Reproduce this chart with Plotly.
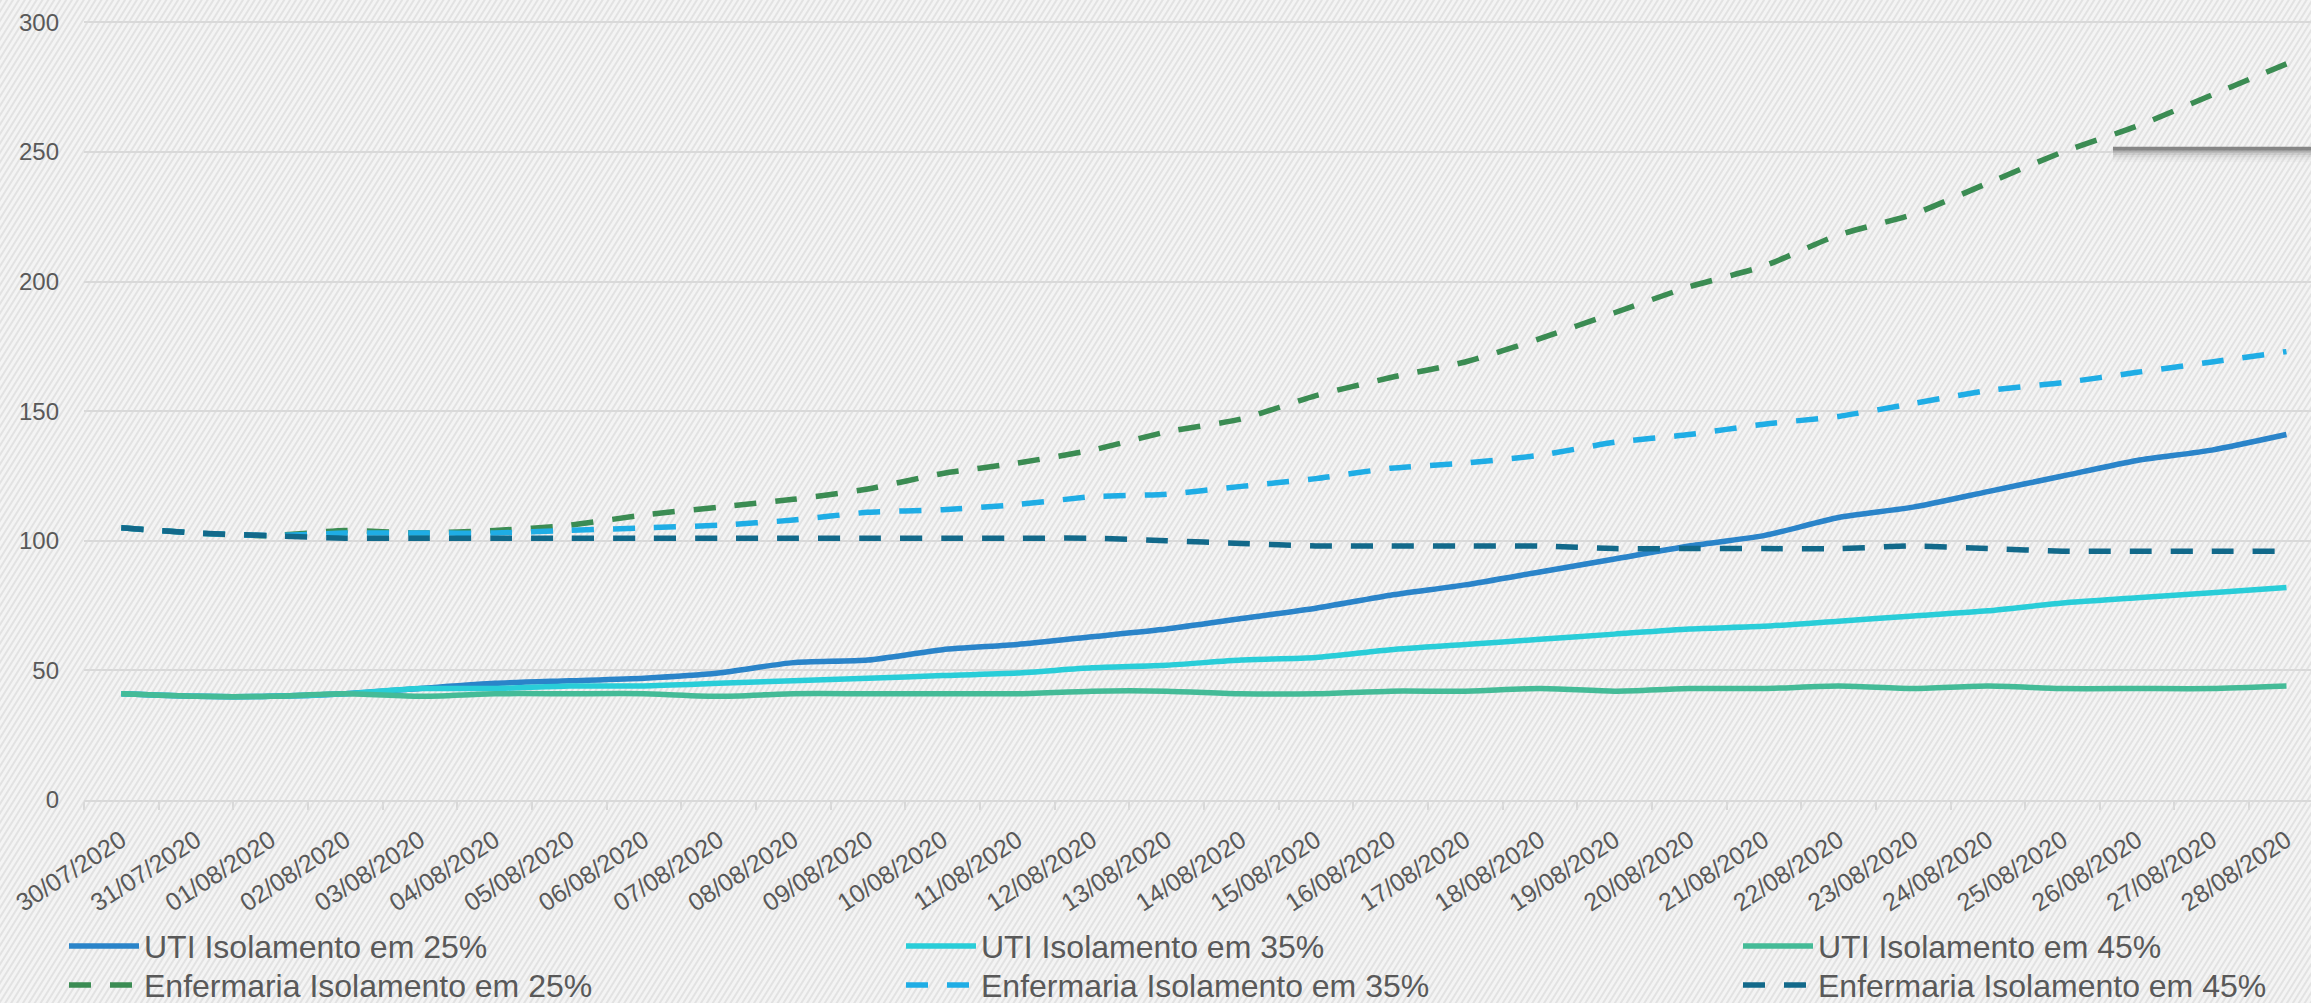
import base64
import plotly.graph_objects as go

# ========== DATA ==========
dates = ["30/07/2020", "31/07/2020", "01/08/2020", "02/08/2020", "03/08/2020",
         "04/08/2020", "05/08/2020", "06/08/2020", "07/08/2020", "08/08/2020",
         "09/08/2020", "10/08/2020", "11/08/2020", "12/08/2020", "13/08/2020",
         "14/08/2020", "15/08/2020", "16/08/2020", "17/08/2020", "18/08/2020",
         "19/08/2020", "20/08/2020", "21/08/2020", "22/08/2020", "23/08/2020",
         "24/08/2020", "25/08/2020", "26/08/2020", "27/08/2020", "28/08/2020"]

uti_25 = [41, 40, 40, 41, 43, 45, 46, 47, 49, 53, 54, 58, 60, 63, 66,
          70, 74, 79, 83, 88, 93, 98, 102, 109, 113, 119, 125, 131, 135, 141]
uti_35 = [41, 40, 40, 41, 43, 43, 44, 44, 45, 46, 47, 48, 49, 51, 52,
          54, 55, 58, 60, 62, 64, 66, 67, 69, 71, 73, 76, 78, 80, 82]
uti_45 = [41, 40, 40, 41, 40, 41, 41, 41, 40, 41, 41, 41, 41, 42, 42,
          41, 41, 42, 42, 43, 42, 43, 43, 44, 43, 44, 43, 43, 43, 44]
enf_25 = [105, 103, 102, 104, 103, 104, 106, 110, 113, 116, 120, 126, 130, 135, 142,
          147, 156, 163, 169, 178, 188, 198, 206, 218, 226, 238, 250, 260, 272, 284]
enf_35 = [105, 103, 102, 103, 103, 103, 104, 105, 106, 108, 111, 112, 114, 117, 118,
          121, 124, 128, 130, 133, 138, 141, 145, 148, 153, 158, 161, 165, 169, 173]
enf_45 = [105, 103, 102, 101, 101, 101, 101, 101, 101, 101, 101, 101, 101, 101, 100,
          99, 98, 98, 98, 98, 97, 97, 97, 97, 98, 97, 96, 96, 96, 96]

# (name, values, colour, dash, legend row, legend entry width)
series = [
    ("UTI Isolamento em 25%", uti_25, "#2a84c9", "solid", "legend", 752),
    ("UTI Isolamento em 35%", uti_35, "#29cdd8", "solid", "legend", 752),
    ("UTI Isolamento em 45%", uti_45, "#44bb97", "solid", "legend", 460),
    ("Enfermaria Isolamento em 25%", enf_25, "#3b8c53", "22px,19px", "legend2", 752),
    ("Enfermaria Isolamento em 35%", enf_35, "#1fade5", "22px,19px", "legend2", 752),
    ("Enfermaria Isolamento em 45%", enf_45, "#12698a", "22px,19px", "legend2", 460),
]

# ========== LAYOUT NUMBERS ==========
W, H = 2311, 1003
L, R, T, B = 84, 0, 10, 203
PW, PH = W - L - R, H - T - B
CAT_PX = 74.66
Y_MAX = 304.8
FONT = "Liberation Sans, Arial, sans-serif"
GREY = "#595959"

# hatched background
svg = (f"<svg xmlns='http://www.w3.org/2000/svg' width='{W}' height='{H}'>"
       "<defs><pattern id='h' width='5' height='5' patternUnits='userSpaceOnUse' "
       "patternTransform='rotate(32)'><rect width='5' height='5' fill='#f4f4f4'/>"
       "<rect width='2' height='5' fill='#e2e2e2'/></pattern></defs>"
       f"<rect width='{W}' height='{H}' fill='url(#h)'/></svg>")
bg_src = "data:image/svg+xml;base64," + base64.b64encode(svg.encode()).decode()

fig = go.Figure()
for name, vals, color, dash, leg, ew in series:
    fig.add_trace(go.Scatter(
        x=dates, y=vals, name=name, mode="lines", legend=leg, legendwidth=ew,
        line=dict(color=color, width=5.5, dash=dash, shape="spline", smoothing=0.6),
    ))

legend_style = dict(orientation="h", xref="container", yref="container",
                    xanchor="left", yanchor="top", x=64 / W,
                    bgcolor="rgba(0,0,0,0)", itemwidth=70, entrywidthmode="pixels",
                    font=dict(family=FONT, size=32, color=GREY))

fig.update_layout(
    width=W, height=H,
    margin=dict(l=L, r=R, t=T, b=B, pad=0),
    paper_bgcolor="#f2f2f2",
    plot_bgcolor="rgba(0,0,0,0)",
    font=dict(family=FONT, color=GREY),
    showlegend=True,
    legend=dict(y=(H - 918.7) / H, **legend_style),
    legend2=dict(y=(H - 957.7) / H, **legend_style),
    xaxis=dict(
        type="category", range=[-0.5, -0.5 + PW / CAT_PX],
        tickson="boundaries", ticks="outside", ticklen=8, tickwidth=2,
        tickcolor="#d9d9d9", showline=True, linecolor="#d9d9d9", linewidth=2,
        showgrid=False, zeroline=False, tickangle=-33, automargin=False,
        ticklabelstandoff=14,
        tickfont=dict(family=FONT, size=25, color=GREY),
    ),
    yaxis=dict(
        range=[0, Y_MAX], dtick=50, tick0=0, showgrid=True, gridcolor="#d9d9d9",
        gridwidth=2, zeroline=False, showline=False, ticks="", automargin=False,
        ticklabelstandoff=24,
        tickfont=dict(family=FONT, size=24, color=GREY),
    ),
    images=[dict(source=bg_src, xref="paper", yref="paper",
                 x=-L / PW, y=1 + T / PH, sizex=W / PW, sizey=H / PH,
                 xanchor="left", yanchor="top", sizing="stretch", layer="below")],
)

# cropped slide element at top right (dark edge with soft shadow)
x0 = (2113 - L) / PW
shadow = [(252.0, 250.5, "rgba(115,115,115,0.85)"),
          (250.5, 249.8, "rgba(140,140,140,0.55)"),
          (249.8, 248.9, "rgba(150,150,150,0.40)"),
          (248.9, 248.0, "rgba(160,160,160,0.26)"),
          (248.0, 247.0, "rgba(170,170,170,0.14)"),
          (247.0, 246.2, "rgba(180,180,180,0.07)")]
for y_top, y_bot, col in shadow:
    fig.add_shape(type="rect", xref="paper", yref="y", x0=x0, x1=1,
                  y0=y_bot, y1=y_top, fillcolor=col, line=dict(width=0), layer="above")

fig.write_html("out.html", config={"displayModeBar": False},
               post_script="document.body.style.margin='0';")
